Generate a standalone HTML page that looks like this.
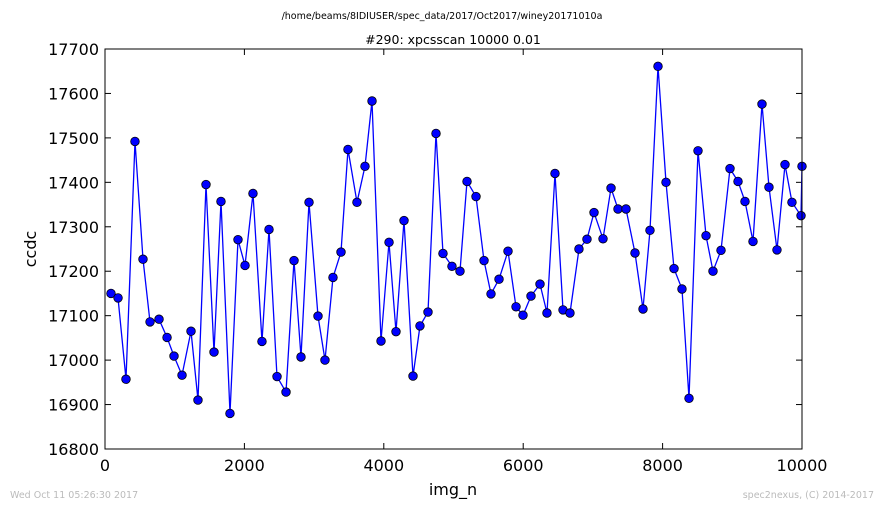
<!DOCTYPE html>
<html><head><meta charset="utf-8"><style>
html,body{margin:0;padding:0;background:#fff;}
svg{display:block;font-family:"DejaVu Sans","Liberation Sans",sans-serif;}
</style></head><body>
<svg id="chart" width="884" height="509" viewBox="0 0 884 509" xmlns="http://www.w3.org/2000/svg">
<rect x="0" y="0" width="884" height="509" fill="#fff"/>
<text x="442" y="19" font-size="9.5" text-anchor="middle" fill="#000">/home/beams/8IDIUSER/spec_data/2017/Oct2017/winey20171010a</text>
<text x="453" y="44" font-size="12.5" text-anchor="middle" fill="#000">#290: xpcsscan 10000 0.01</text>
<g id="xticks"></g>
<g id="yticks"></g>
<g id="series"></g>
<rect x="105" y="49" width="697" height="400" fill="none" stroke="#000" stroke-width="1"/>
<text x="453" y="495" font-size="16" text-anchor="middle" fill="#000">img_n</text>
<text x="0" y="0" font-size="16" text-anchor="middle" fill="#000" transform="translate(36,249) rotate(-90)">ccdc</text>
<text x="10" y="498" font-size="9.5" fill="#bbb">Wed Oct 11 05:26:30 2017</text>
<text x="874" y="498" font-size="9.5" fill="#bbb" text-anchor="end">spec2nexus, (C) 2014-2017</text>
</svg>
<script>
const xTickValues=[0,2000,4000,6000,8000,10000];
const yTickValues=[16800,16900,17000,17100,17200,17300,17400,17500,17600,17700];
const imgN=[86,187,301,430,545,646,775,890,990,1105,1234,1334,1449,1564,1664,1793,1908,2009,2123,2252,2353,2468,2597,2712,2812,2927,3056,3156,3271,3386,3486,3615,3730,3831,3960,4075,4175,4290,4419,4519,4634,4749,4849,4978,5093,5194,5323,5438,5538,5653,5782,5897,5997,6112,6241,6341,6456,6571,6671,6800,6915,7016,7145,7260,7360,7475,7604,7719,7819,7934,8049,8164,8278,8379,8508,8623,8723,8838,8967,9082,9182,9297,9426,9526,9641,9756,9856,9986,10000];
const ccdc=[17150,17140,16957,17492,17227,17086,17092,17051,17009,16966,17065,16910,17395,17018,17357,16880,17271,17213,17375,17042,17294,16963,16928,17224,17007,17355,17099,17000,17186,17243,17474,17355,17436,17583,17043,17265,17064,17314,16964,17077,17108,17510,17240,17211,17200,17402,17368,17224,17149,17182,17245,17120,17101,17144,17171,17106,17420,17113,17106,17250,17272,17332,17273,17387,17340,17340,17241,17115,17292,17661,17400,17206,17160,16914,17471,17280,17200,17247,17431,17402,17357,17267,17576,17389,17248,17440,17355,17325,17436];
const L=105,R=802,T=49,B=449,xMin=0,xMax=10000,yMin=16800,yMax=17700;
function sx(v){return L+(v-xMin)/(xMax-xMin)*(R-L);}
function sy(v){return B-(v-yMin)/(yMax-yMin)*(B-T);}
const NS="http://www.w3.org/2000/svg";
function mk(tag,attrs,parent){const e=document.createElementNS(NS,tag);for(const k in attrs)e.setAttribute(k,attrs[k]);parent.appendChild(e);return e;}
const gx=document.getElementById('xticks'),gy=document.getElementById('yticks'),gs=document.getElementById('series');
xTickValues.forEach(v=>{const x=sx(v);
 let t=mk('line',{x1:x,x2:x,y1:B,y2:B-6,stroke:'#000'},gx);
 
 
 let t2=mk('line',{x1:x,x2:x,y1:T,y2:T+6,stroke:'#000'},gx);
 
 
 let lb=mk('text',{x:x,y:B+22,'font-size':16,'text-anchor':'middle',fill:'#000'},gx);lb.textContent=v;
 
 
});
yTickValues.forEach(v=>{const y=sy(v);
 let t=mk('line',{x1:L,x2:L+6,y1:y,y2:y,stroke:'#000'},gy);
 
 
 let t2=mk('line',{x1:R,x2:R-6,y1:y,y2:y,stroke:'#000'},gy);
 
 
 let lb=mk('text',{x:L-6,y:y+6,'font-size':16,'text-anchor':'end',fill:'#000'},gy);lb.textContent=v;
 
 
});
const pts=imgN.map((v,i)=>sx(v).toFixed(1)+','+sy(ccdc[i]).toFixed(1)).join(' ');
const line=mk('polyline',{points:pts,fill:'none',stroke:'#0000ff','stroke-width':1.3},gs);


imgN.forEach((v,i)=>{
 const c=mk('circle',{cx:sx(v),cy:sy(ccdc[i]),r:4.3,fill:'#0000ff',stroke:'#000','stroke-width':0.8},gs);
 
 
});
</script>
</body></html>
